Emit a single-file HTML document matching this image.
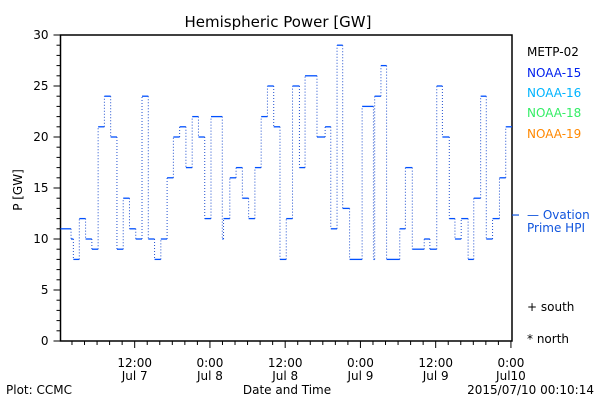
<!DOCTYPE html>
<html><head><meta charset="utf-8"><style>
body{margin:0;background:#fff}
svg{display:block;font-family:"DejaVu Sans","Liberation Sans",sans-serif}
text{font-size:12px}
</style></head><body>
<svg id="chart" width="600" height="400" viewBox="0 0 600 400" xmlns="http://www.w3.org/2000/svg">
<rect width="600" height="400" fill="#fff"/>
<text x="278" y="27" text-anchor="middle" font-size="15" style="font-size:15px">Hemispheric Power [GW]</text>
<text x="22" y="190" text-anchor="middle" transform="rotate(-90 22 190)">P [GW]</text>
<text x="287" y="394" text-anchor="middle">Date and Time</text>
<text x="6" y="394">Plot: CCMC</text>
<text x="594" y="394" text-anchor="end">2015/07/10 00:10:14</text>
<g>
<text x="527" y="56" fill="#000">METP-02</text>
<text x="527" y="77" fill="#0022ee">NOAA-15</text>
<text x="527" y="97" fill="#00b4ff">NOAA-16</text>
<text x="527" y="117" fill="#33ee66">NOAA-18</text>
<text x="527" y="138" fill="#ff8800">NOAA-19</text>
<text x="527" y="219" fill="#1155dd">— Ovation</text>
<text x="527" y="232" fill="#1155dd">Prime HPI</text>
<text x="527" y="311">+ south</text>
<text x="527" y="343">* north</text>
</g>
<g id="axes"></g>
<g id="series"></g>
</svg>
<script>
const stepStartHours=[0,1.68,2.05,3,4,5,6,7,8,9,10,11,12,13,14,15,16,17,18,19,20,21,22,23,24,25.8,26,27,28,29,30,31,32,33,34,35,36,37,38.1,39,40.9,42.2,43.1,44.1,45,46.1,48.1,49.9,50.1,51.1,52,54.1,55,56.1,58,58.9,60,60.9,62,62.9,63.9,65,65.9,67,67.9,68.9,70,71];
const stepValues=[11,10,8,12,10,9,21,24,20,9,14,11,10,24,10,8,10,16,20,21,17,22,20,12,22,10,12,16,17,14,12,17,22,25,21,8,12,25,17,26,20,21,11,29,13,8,23,8,24,27,8,11,17,9,10,9,25,20,12,10,12,8,14,24,10,12,16,21];
const hpiValue=12.35;
const xTickLabels=[["12:00","Jul 7"],["0:00","Jul 8"],["12:00","Jul 8"],["0:00","Jul 9"],["12:00","Jul 9"],["0:00","Jul10"]];
const xTickHours=[11.83,23.83,35.83,47.83,59.83,71.83];
const yTickLabels=["0","5","10","15","20","25","30"];
const yTickValues=[0,5,10,15,20,25,30];

const NS="http://www.w3.org/2000/svg";
const L=60.5,R=512,T=35,B=341,H0=0,H1=72,V0=0,V1=30;
const xs=h=>L+(h-H0)/(H1-H0)*(R-L);
const ys=v=>B-(v-V0)/(V1-V0)*(B-T);
function mk(tag,attrs,parent){const e=document.createElementNS(NS,tag);for(const k in attrs)e.setAttribute(k,attrs[k]);parent.appendChild(e);return e;}
const ax=document.getElementById('axes');
const frame=mk('rect',{x:L,y:T,width:R-L,height:B-T,fill:'none',stroke:'#000','stroke-width':1.5},ax);


for(let v=0;v<=30;v++){
  const len=v%5===0?7:4;
  const t=mk('line',{x1:L-len,x2:L,y1:ys(v),y2:ys(v),stroke:'#000'},ax);
  
  
}
yTickValues.forEach((v,i)=>{
  const t=mk('text',{x:L-12,y:ys(v)+4,'text-anchor':'end'},ax);
  t.textContent=yTickLabels[i];
  
  
});
for(let h=xTickHours[0]%2;h<=H1;h+=2){
  const major=xTickHours.some(m=>Math.abs(m-h)<0.01);
  const t=mk('line',{x1:xs(h),x2:xs(h),y1:B,y2:B+(major?7:4),stroke:'#000'},ax);
  
  
}
xTickHours.forEach((h,i)=>{
  const t1=mk('text',{x:xs(h),y:B+26,'text-anchor':'middle'},ax);
  t1.textContent=xTickLabels[i][0];
  
  
  const t2=mk('text',{x:xs(h),y:B+39,'text-anchor':'middle'},ax);
  t2.textContent=xTickLabels[i][1];
  
  
});
const sg=document.getElementById('series');
const hp=mk('line',{x1:R,x2:R+7,y1:ys(hpiValue),y2:ys(hpiValue),stroke:'#1155dd','stroke-width':1.2},sg);


for(let i=0;i<stepValues.length;i++){
  const x1=xs(stepStartHours[i]);
  const x2=xs(i+1<stepStartHours.length?stepStartHours[i+1]:H1);
  const y=ys(stepValues[i]);
  const s=mk('line',{x1:x1,x2:x2,y1:y,y2:y,stroke:'#0050ff','stroke-width':1.3},sg);
  
  
  if(i+1<stepValues.length){
    const v=mk('line',{x1:x2,x2:x2,y1:y,y2:ys(stepValues[i+1]),stroke:'#2050d0','stroke-width':1,'stroke-dasharray':'1 2'},sg);
    
    
  }
}
</script>
</body></html>
